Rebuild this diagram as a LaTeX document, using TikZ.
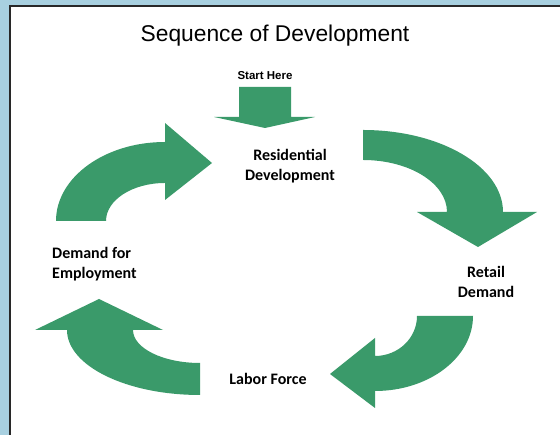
\documentclass[tikz,border=0pt]{standalone}
\usepackage{fontspec}
\setmainfont{Liberation Sans}
\newfontfamily\lblfont{Carlito}
\usepackage{tikz}

\definecolor{skyback}{RGB}{168,208,224}
\definecolor{arrowgreen}{RGB}{58,154,106}
\definecolor{frameline}{RGB}{40,40,40}

\tikzset{
    blockarrow/.style={fill=arrowgreen, draw=none},
    lbl/.style={font=\lblfont\bfseries\fontsize{16}{19.5}\selectfont, align=center, inner sep=0pt}
}

\begin{document}
\begin{tikzpicture}[x=1pt, y=1pt]
    \useasboundingbox (0,0) rectangle (560,435);
    \clip (0,0) rectangle (560,435);
    % background and panel
    \fill[skyback] (0,0) rectangle (560,435);
    \draw[frameline, fill=white, line width=2pt] (10,-10) rectangle (575,429);

    \node[anchor=base, font=\fontsize{22.8}{27}\selectfont] (title) at (275,393) {Sequence of Development};
    \node[anchor=base, font=\bfseries\fontsize{11.5}{13}\selectfont, inner sep=0pt] (start) at (265,355) {Start Here};

    % start arrow
    \fill[blockarrow] (239,348) -- (291,348) -- (291,318) -- (315,318) -- (265,307) -- (214,318) -- (239,318) -- cycle;

    % curved arrows
    \fill[blockarrow] (363,305) arc[start angle=90, end angle=0, x radius=140, y radius=82]
        -- (537,223) -- (478,188) -- (417,223) -- (447,223)
        arc[start angle=0, end angle=90, x radius=84, y radius=52] -- cycle;
    \fill[blockarrow] (473,119) arc[start angle=0, end angle=-90, x radius=98, y radius=75]
        -- (375,27) -- (330,61) -- (375,97) -- (375,79)
        arc[start angle=-90, end angle=0, x radius=42, y radius=40] -- cycle;
    \fill[blockarrow] (200,40) arc[start angle=270, end angle=180, x radius=133, y radius=65]
        -- (35,105) -- (99,136) -- (163,105) -- (133,105)
        arc[start angle=180, end angle=270, x radius=67, y radius=33] -- cycle;
    \fill[blockarrow] (56,214) arc[start angle=180, end angle=90, x radius=109, y radius=79]
        -- (165,312) -- (212,272) -- (165,235) -- (165,252)
        arc[start angle=90, end angle=180, x radius=59, y radius=38] -- cycle;

    % stage labels
    \node[lbl] (resid) at (290,269) {Residential\\Development};
    \node[lbl] (retail) at (486,153) {Retail\\Demand};
    \node[lbl] (labor) at (268,56) {Labor Force};
    \node[lbl, align=left, anchor=west] (employ) at (52,171) {Demand for\\Employment};
\end{tikzpicture}
\end{document}
